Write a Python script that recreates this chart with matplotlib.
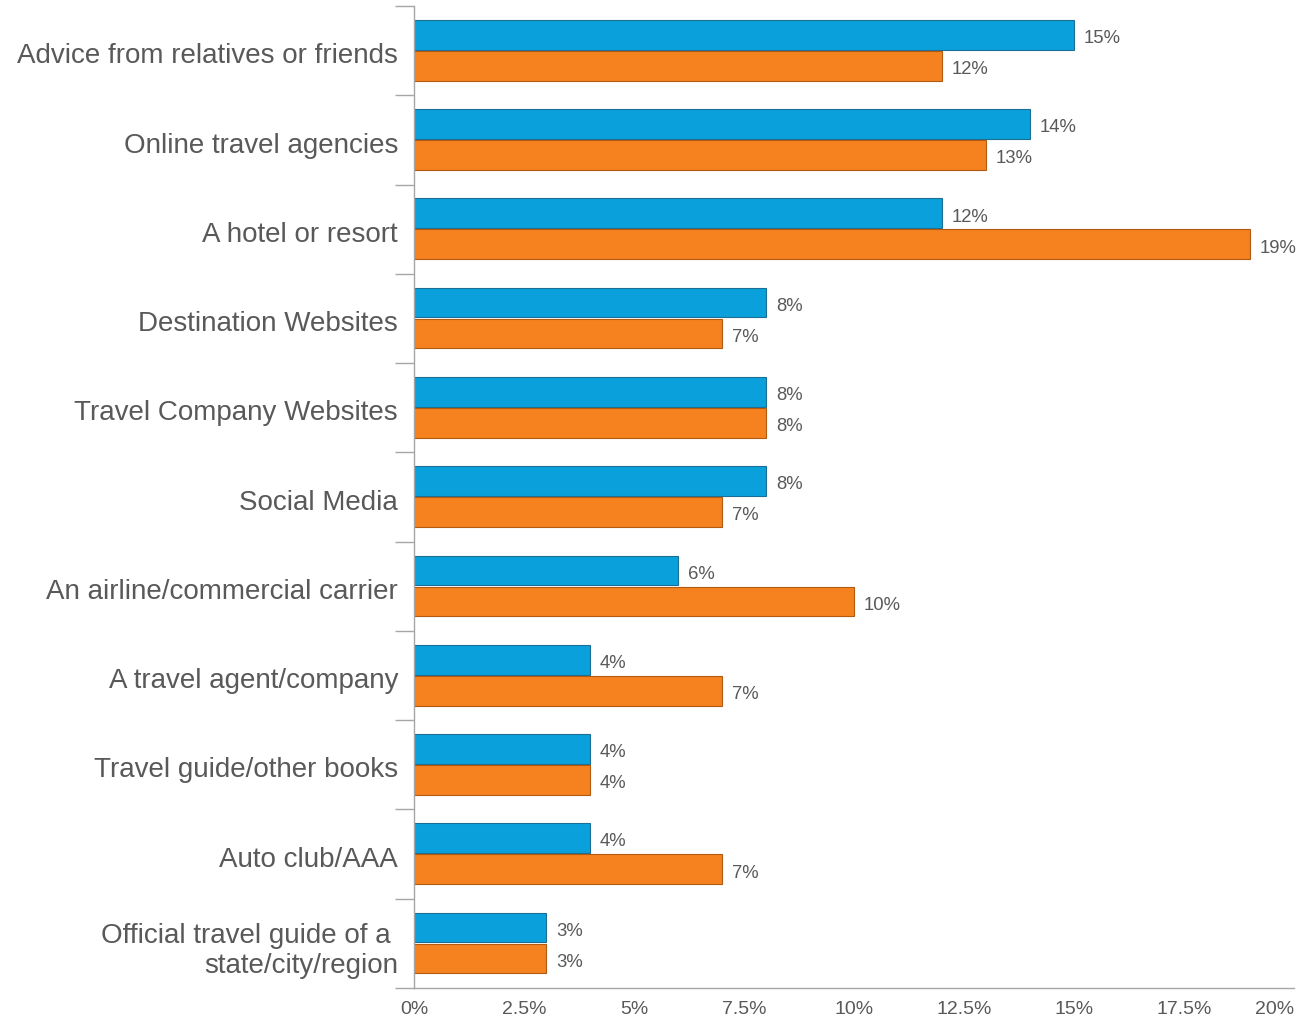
import matplotlib.pyplot as plt
from matplotlib.ticker import FixedLocator, FuncFormatter
import numpy as np

# categories, top to bottom
categories = [
    "Advice from relatives or friends",
    "Online travel agencies",
    "A hotel or resort",
    "Destination Websites",
    "Travel Company Websites",
    "Social Media",
    "An airline/commercial carrier",
    "A travel agent/company",
    "Travel guide/other books",
    "Auto club/AAA",
    "Official travel guide of a \nstate/city/region",
]
blue_values = [15, 14, 12, 8, 8, 8, 6, 4, 4, 4, 3]
orange_values = [12, 13, 19, 7, 8, 7, 10, 7, 4, 7, 3]
x_ticks = [0, 2.5, 5, 7.5, 10, 12.5, 15, 17.5, 20]

blue = "#0aa0dc"
orange = "#f5821f"
gray_text = "#595959"
gray_line = "#a6a6a6"

plt.rcParams['font.family'] = ['Liberation Sans', 'DejaVu Sans']

fig = plt.figure(figsize=(12.99, 10.21), dpi=100)
ax = fig.add_axes([414 / 1299, 1 - 988 / 1021, 880 / 1299, 982 / 1021])

y = np.arange(len(categories))
h = 0.333
yb = y - 0.178
yo = y + 0.17
ax.barh(yb, blue_values, height=h, color=blue, edgecolor="#1c6f94", linewidth=0.8)
ax.barh(yo, orange_values, height=h, color=orange, edgecolor="#b05a12", linewidth=0.8)

# value labels
for i in range(len(categories)):
    ax.text(blue_values[i] + 0.23, yb[i] + 0.02, "%d%%" % blue_values[i],
            va="center_baseline", ha="left", fontsize=13.3, color=gray_text)
    ax.text(orange_values[i] + 0.23, yo[i] + 0.02, "%d%%" % orange_values[i],
            va="center_baseline", ha="left", fontsize=13.3, color=gray_text)

ax.set_xlim(0, 20)
ax.set_ylim(len(categories) - 0.5, -0.5)

# x axis
ax.set_xticks(x_ticks)
ax.xaxis.set_major_formatter(FuncFormatter(lambda v, p: ("%g%%" % v)))
ax.tick_params(axis="x", length=0, pad=9, labelsize=14, labelcolor=gray_text)
xl = ax.get_xticklabels()
xl[-1].set_horizontalalignment("right")

# y axis: boundary ticks as major, labels on minor
ax.yaxis.set_major_locator(FixedLocator(np.arange(-0.5, len(categories), 1)))
ax.yaxis.set_minor_locator(FixedLocator(y + 0.03))
ax.set_yticklabels([], minor=False)
ax.set_yticklabels(categories, minor=True)
ax.tick_params(axis="y", which="major", length=14, width=1, color=gray_line)
ax.tick_params(axis="y", which="minor", length=0, pad=11.5, labelsize=20, labelcolor=gray_text)

for s in ["top", "right"]:
    ax.spines[s].set_visible(False)
for s in ["left", "bottom"]:
    ax.spines[s].set_color(gray_line)
    ax.spines[s].set_linewidth(1)

fig.savefig("out.png", dpi=100)
